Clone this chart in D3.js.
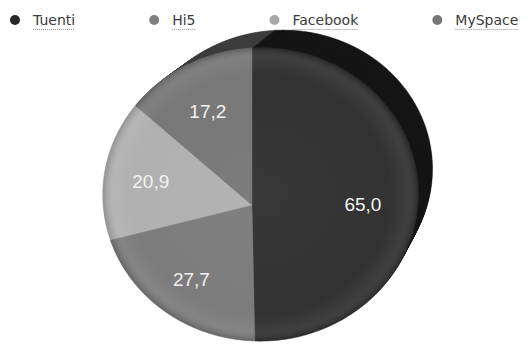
<!DOCTYPE html>
<html>
<head>
<meta charset="utf-8">
<script src="https://cdn.jsdelivr.net/npm/d3@7"></script>
<style>
  body { margin: 0; background: #fff; }
  svg { display: block; }
</style>
</head>
<body>
<div id="chart"></div>
<script>
// data
var names = ["Tuenti", "Hi5", "Facebook", "MySpace"];
var values = [65.0, 27.7, 20.9, 17.2];
var labels = ["65,0", "27,7", "20,9", "17,2"];
var colors = ["#323232", "#7c7c7c", "#b1b1b1", "#787878"];
var sideColors = ["#151515", "#4a4a4a", "#666666", "#3d3d3d"];
var dotColors = ["#262626", "#7f7f7f", "#a8a8a8", "#767676"];

var width = 530, height = 348;

// tilted disc: apex of the slices and a simple perspective
var ax = 252, ay = 205;
var rx = 157, ry = 145.7, px = -0.054, py = 0.0717;
// back face of the disc: shift and shrink
var depth = 22, backX = 22, backY = 25, backScale = 0.95;
var fcx = 260, fcy = 194;

function project(a, r) {
    var X = Math.sin(a) * r, Y = -Math.cos(a) * r;
    var w = 1 + px * X + py * Y;
    return [ax + rx * X / w, ay + ry * Y / w];
}

var line = d3.line().curve(d3.curveLinearClosed);

function slicePath(d) {
    var pts = [project(0, 0)];
    var n = Math.max(2, Math.ceil((d.endAngle - d.startAngle) / 0.01));
    for (var j = 0; j <= n; j++) {
        pts.push(project(d.startAngle + (d.endAngle - d.startAngle) * j / n, 1));
    }
    return line(pts);
}

var svg = d3.select("#chart").append("svg")
    .attr("width", width)
    .attr("height", height);

var defs = svg.append("defs");
var shade = defs.append("radialGradient").attr("id", "shade")
    .attr("cx", "50%").attr("cy", "50%").attr("r", "50%");
shade.append("stop").attr("offset", "0%").attr("stop-color", "#fff").attr("stop-opacity", 0.03);
shade.append("stop").attr("offset", "82%").attr("stop-color", "#fff").attr("stop-opacity", 0.0);
shade.append("stop").attr("offset", "93%").attr("stop-color", "#fff").attr("stop-opacity", 0.06);
shade.append("stop").attr("offset", "100%").attr("stop-color", "#000").attr("stop-opacity", 0.18);

var pie = d3.pie().sort(null).value(function (d) { return d; });
var arcs = pie(values);

// side of the disc (stacked copies going back)
for (var k = depth; k >= 1; k--) {
    var t = k / depth;
    var s = 1 - (1 - backScale) * t;
    svg.append("g")
        .attr("transform", "translate(" + (fcx + backX * t) + "," + (fcy - backY * t) + ") scale(" + s + ") translate(" + (-fcx) + "," + (-fcy) + ")")
        .selectAll("path")
        .data(arcs)
        .enter().append("path")
        .attr("d", slicePath)
        .attr("fill", function (d, i) { return sideColors[i]; })
        .attr("stroke", function (d, i) { return sideColors[i]; })
        .attr("stroke-width", 0.5);
}

// front face
var front = svg.append("g");
front.selectAll("path")
    .data(arcs)
    .enter().append("path")
    .attr("d", slicePath)
    .attr("fill", function (d, i) { return colors[i]; })
    .attr("stroke", function (d, i) { return colors[i]; })
    .attr("stroke-width", 0.5);
front.append("path")
    .attr("d", slicePath({ startAngle: 0, endAngle: 2 * Math.PI }))
    .attr("fill", "url(#shade)");

// slice labels
svg.selectAll(".lbl")
    .data(arcs)
    .enter().append("text")
    .attr("class", "lbl")
    .attr("x", function (d) { return project((d.startAngle + d.endAngle) / 2, 0.68)[0]; })
    .attr("y", function (d) { return project((d.startAngle + d.endAngle) / 2, 0.68)[1]; })
    .attr("dy", "0.35em")
    .attr("text-anchor", "middle")
    .attr("fill", "#f2f2f2")
    .style("font-family", "'Liberation Sans', Arial, sans-serif")
    .style("font-size", "19px")
    .text(function (d, i) { return labels[i]; });

// legend
var legend = svg.append("g").attr("class", "legend");
var lx = 15;
names.forEach(function (name, i) {
    var g = legend.append("g").attr("transform", "translate(" + lx + ",20)");
    g.append("circle").attr("r", 5).attr("fill", dotColors[i]);
    var txt = g.append("text")
        .attr("x", 18)
        .attr("y", 5)
        .attr("fill", "#3a3a3a")
        .style("font-family", "'DejaVu Sans', Verdana, sans-serif")
        .style("font-size", "14px")
        .text(name);
    var w = txt.node().getComputedTextLength();
    g.append("line")
        .attr("x1", 18).attr("x2", 18 + w)
        .attr("y1", 9.5).attr("y2", 9.5)
        .attr("stroke", "#999")
        .attr("stroke-width", 1)
        .attr("stroke-dasharray", "1,1");
    lx += 18 + w + 79;
});
</script>
</body>
</html>
